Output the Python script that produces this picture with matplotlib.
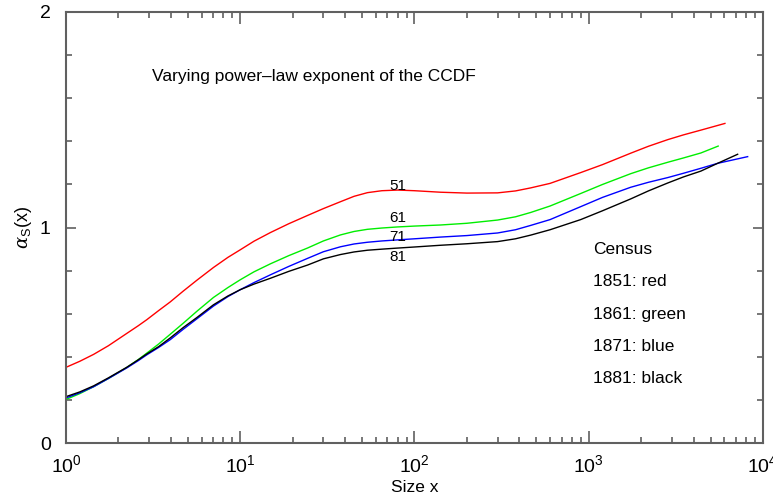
import numpy as np
import matplotlib.pyplot as plt
from matplotlib.ticker import FixedLocator, NullFormatter

plt.rcParams['font.family'] = ['Liberation Sans', 'DejaVu Sans']
plt.rcParams['mathtext.fontset'] = 'custom'
plt.rcParams['mathtext.rm'] = 'Liberation Sans'
plt.rcParams['mathtext.it'] = 'DejaVu Serif:italic'

# sizes
x_common = [1, 1.2, 1.44, 1.75, 2.23, 2.6, 2.91, 3.4, 3.96, 4.7, 5.64, 7.02, 8.5, 10,
            12, 14.9, 19, 24.3, 30, 37.6, 45, 53.7, 65, 80, 100, 141, 200, 300, 380,
            464, 600, 899, 1200, 1742, 2200, 2845, 3500, 4403]

# census 1851 (red)
x_1851 = x_common + [6050]
a_1851 = [0.352, 0.380, 0.412, 0.452, 0.509, 0.545, 0.573, 0.615, 0.655, 0.705, 0.756,
          0.815, 0.862, 0.897, 0.937, 0.977, 1.018, 1.056, 1.088, 1.120, 1.145, 1.162,
          1.171, 1.174, 1.171, 1.164, 1.160, 1.161, 1.170, 1.184, 1.205, 1.255, 1.292,
          1.345, 1.377, 1.408, 1.430, 1.452, 1.483]

# census 1861 (green)
x_1861 = x_common + [5535]
a_1861 = [0.203, 0.230, 0.262, 0.300, 0.351, 0.388, 0.418, 0.460, 0.505, 0.556, 0.612,
          0.676, 0.722, 0.758, 0.795, 0.832, 0.870, 0.905, 0.938, 0.966, 0.982, 0.992,
          0.998, 1.003, 1.007, 1.012, 1.020, 1.035, 1.050, 1.070, 1.100, 1.158, 1.200,
          1.250, 1.277, 1.303, 1.323, 1.346, 1.378]

# census 1871 (blue)
x_1871 = x_common + [5493, 8170]
a_1871 = [0.210, 0.234, 0.262, 0.300, 0.349, 0.383, 0.410, 0.444, 0.480, 0.528, 0.577,
          0.636, 0.680, 0.712, 0.745, 0.781, 0.820, 0.857, 0.888, 0.911, 0.924, 0.932,
          0.938, 0.943, 0.948, 0.956, 0.963, 0.975, 0.990, 1.010, 1.037, 1.097, 1.140,
          1.187, 1.210, 1.232, 1.252, 1.275, 1.298, 1.329]

# census 1881 (black)
x_1881 = x_common + [5493, 7157]
a_1881 = [0.216, 0.238, 0.266, 0.303, 0.352, 0.387, 0.414, 0.448, 0.488, 0.536, 0.583,
          0.642, 0.683, 0.712, 0.738, 0.765, 0.797, 0.826, 0.855, 0.875, 0.887, 0.895,
          0.900, 0.905, 0.910, 0.918, 0.925, 0.935, 0.948, 0.965, 0.990, 1.037, 1.078,
          1.133, 1.170, 1.207, 1.235, 1.262, 1.298, 1.340]

series = [(x_1851, a_1851, '#ff0000', '51'),
          (x_1861, a_1861, '#00ee00', '61'),
          (x_1871, a_1871, '#0000ff', '71'),
          (x_1881, a_1881, '#000000', '81')]
label_y = [1.193, 1.044, 0.956, 0.863]

legend_lines = ['Census', '1851: red', '1861: green', '1871: blue', '1881: black']

fig = plt.figure(figsize=(7.73, 4.98), dpi=100)
ax = fig.add_axes([0.0854, 0.110, 0.9016, 0.866])

for (xs, ys, col, lab), ly in zip(series, label_y):
    ax.plot(xs, ys, color=col, lw=1.0)
    ax.text(80, ly, lab, fontsize=11, ha='center', va='center')

ax.set_xscale('log')
ax.set_xlim(1, 1e4)
ax.set_ylim(0, 2)

ax.set_xticks([1, 10, 100, 1000, 10000])
ax.set_xticklabels([r'$\mathregular{10^{%d}}$' % k for k in range(5)])
ax.xaxis.set_minor_locator(FixedLocator([m * 10**k for k in range(4) for m in range(2, 10)]))
ax.xaxis.set_minor_formatter(NullFormatter())

ax.set_yticks([0, 1, 2])
ax.set_yticklabels(['0', '1', '2'])
ax.yaxis.set_minor_locator(FixedLocator(np.arange(0.2, 2.0, 0.2)))

ax.tick_params(which='both', direction='in', top=True, right=True,
               color='#606060', labelsize=14, width=1.2)
ax.tick_params(axis='x', which='major', length=8.5, pad=8)
ax.tick_params(axis='x', which='minor', length=4.5)
ax.tick_params(axis='y', which='major', length=7, pad=11)
ax.tick_params(axis='y', which='minor', length=4)

for sp in ax.spines.values():
    sp.set_color('#606060')
    sp.set_linewidth(1.5)

ax.set_xlabel('Size x', fontsize=12.5, labelpad=3)
ax.set_ylabel(r'$\alpha_{\mathrm{S}}\mathrm{(x)}$', fontsize=13, labelpad=4)

ax.text(3.1, 1.70, 'Varying power\u2013law exponent of the CCDF', fontsize=12.5,
        ha='left', va='center')

leg_y = [0.90, 0.752, 0.599, 0.450, 0.302]
for t, yy in zip(legend_lines, leg_y):
    ax.text(1054, yy, t, fontsize=12.5, ha='left', va='center')

fig.savefig('out.png', dpi=100)
